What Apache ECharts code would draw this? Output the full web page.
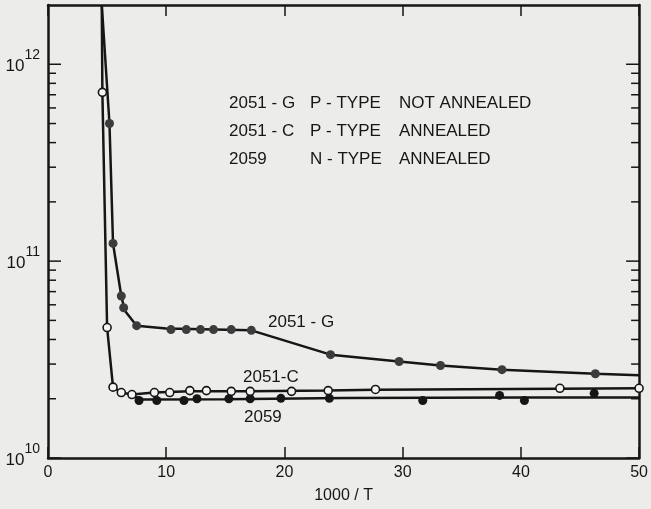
<!DOCTYPE html>
<html>
<head>
<meta charset="utf-8">
<script src="https://cdn.jsdelivr.net/npm/echarts@6/dist/echarts.min.js"></script>
<style>
  html, body { margin: 0; padding: 0; background: #ececea; }
  #chart { width: 651px; height: 509px; }
</style>
</head>
<body>
<div id="chart"></div>
<script>
// axis ranges
const xMin = 0, xMax = 50, xStep = 10;
const yMin = 1e10, yMax = 2e12;
const decades = [1e10, 1e11, 1e12];
const minorMults = [2, 3, 4, 5, 6, 7, 8, 9];

// 2051-G  (P-type, not annealed) : drawn curve + measured points
const gCurveX = [4.55, 5.2, 5.5, 6.2, 6.5, 7.5, 10, 17.2, 23.9, 29.7, 33.2, 38.4, 46.3, 50];
const gCurveY = [2e12, 5e11, 1.23e11, 6.65e10, 5.6e10, 4.7e10, 4.55e10, 4.45e10, 3.35e10, 3.09e10, 2.95e10, 2.81e10, 2.68e10, 2.63e10];
const gDotsX = [5.2, 5.5, 6.2, 6.4, 7.5, 10.4, 11.7, 12.9, 14.0, 15.5, 17.2, 23.9, 29.7, 33.2, 38.4, 46.3];
const gDotsY = [5e11, 1.23e11, 6.65e10, 5.8e10, 4.7e10, 4.49e10, 4.49e10, 4.49e10, 4.49e10, 4.49e10, 4.45e10, 3.35e10, 3.09e10, 2.95e10, 2.81e10, 2.68e10];

// 2051-C  (P-type, annealed)
const cCurveX = [4.55, 4.6, 5.0, 5.5, 6.2, 7.1, 9.0, 12.0, 17.1, 23.7, 27.7, 43.3, 50];
const cCurveY = [2e12, 7.2e11, 4.6e10, 2.29e10, 2.15e10, 2.1e10, 2.15e10, 2.18e10, 2.18e10, 2.2e10, 2.22e10, 2.25e10, 2.26e10];
const cDotsX = [4.6, 5.0, 5.5, 6.2, 7.1, 9.0, 10.3, 12.0, 13.4, 15.5, 17.1, 20.6, 23.7, 27.7, 43.3, 50];
const cDotsY = [7.2e11, 4.6e10, 2.29e10, 2.15e10, 2.1e10, 2.15e10, 2.15e10, 2.2e10, 2.2e10, 2.18e10, 2.18e10, 2.18e10, 2.2e10, 2.23e10, 2.26e10, 2.26e10];

// 2059  (N-type, annealed)
const nCurveX = [7.1, 8.0, 15, 25, 40, 50];
const nCurveY = [2.08e10, 1.98e10, 1.99e10, 2.02e10, 2.03e10, 2.03e10];
const nDotsX = [7.7, 9.2, 11.5, 12.6, 15.3, 17.1, 19.7, 23.8, 31.7, 38.2, 40.3, 46.2];
const nDotsY = [1.96e10, 1.96e10, 1.96e10, 2.0e10, 2.0e10, 2.0e10, 2.01e10, 2.01e10, 1.96e10, 2.08e10, 1.96e10, 2.13e10];

const legendRows = [
  ['2051 - G', 'P - TYPE', 'NOT ANNEALED'],
  ['2051 - C', 'P - TYPE', 'ANNEALED'],
  ['2059', 'N - TYPE', 'ANNEALED']
];
const curveLabels = ['2051 - G', '2051-C', '2059'];

const ink = '#161616';
const font = "'Liberation Sans', 'DejaVu Sans', sans-serif";

const zip = (xs, ys) => xs.map((x, i) => [x, ys[i]]);

const chart = echarts.init(document.getElementById('chart'));

function curve(xs, ys) {
  return {
    type: 'line', data: zip(xs, ys), showSymbol: false, symbol: 'none',
    lineStyle: { color: ink, width: 2.5 }, z: 3, silent: true, animation: false
  };
}
function dots(xs, ys, fill, size, border) {
  return {
    type: 'scatter', data: zip(xs, ys), symbolSize: size, z: 5, animation: false,
    itemStyle: { color: fill, borderColor: ink, borderWidth: border, opacity: 1 }
  };
}

const commonX = { type: 'value', min: xMin, max: xMax, interval: xStep, splitLine: { show: false },
  axisLine: { show: true, onZero: false, lineStyle: { color: ink, width: 2.5 } },
  axisTick: { inside: true, length: 11, lineStyle: { color: ink, width: 1.5 } } };
const commonY = { type: 'log', logBase: 10, min: yMin, max: yMax, splitLine: { show: false },
  axisLine: { show: true, onZero: false, lineStyle: { color: ink, width: 2.5 } },
  axisTick: { show: false } };

chart.setOption({
  backgroundColor: '#ececea',
  animation: false,
  grid: { left: 48, right: 8, top: 5, bottom: 48 },
  xAxis: [
    Object.assign({}, commonX, {
      position: 'bottom',
      name: '1000 / T', nameLocation: 'middle', nameGap: 30,
      nameTextStyle: { color: ink, fontSize: 16, fontFamily: font },
      axisLabel: { color: ink, fontSize: 16, fontFamily: font, margin: 7 }
    }),
    Object.assign({}, commonX, { position: 'top', axisLabel: { show: false } })
  ],
  yAxis: [
    Object.assign({}, commonY, {
      position: 'left',
      axisLabel: {
        margin: 8, showMaxLabel: false,
        formatter: function (v) {
          const e = Math.round(Math.log10(v));
          if (Math.abs(Math.log10(v) - e) > 1e-6) return '';
          return '{b|10}{s|' + e + '}';
        },
        rich: {
          b: { color: ink, fontSize: 17, fontFamily: font, padding: [4, 0, 0, 0] },
          s: { color: ink, fontSize: 14, fontFamily: font, padding: [0, 0, 18, 0] }
        }
      }
    }),
    Object.assign({}, commonY, { position: 'right', axisLabel: { show: false } })
  ],
  series: [
    curve(gCurveX, gCurveY),
    curve(cCurveX, cCurveY),
    curve(nCurveX, nCurveY),
    dots(gDotsX, gDotsY, '#3c3c3c', 9, 0),
    dots(nDotsX, nDotsY, ink, 9, 0),
    dots(cDotsX, cDotsY, '#f4f4f2', 8, 1.6)
  ]
});

const graphics = [];
// log ticks (10^n long, 2..9 x 10^n short) on both frame sides, placed through the axis scale
decades.forEach(function (d) {
  const vals = [[d, 13]];
  minorMults.forEach(m => { if (d * m < yMax) vals.push([d * m, 8]); });
  vals.forEach(function (t) {
    [[xMin, 1], [xMax, -1]].forEach(function (side) {
      const p = chart.convertToPixel({ xAxisIndex: 0, yAxisIndex: 0 }, [side[0], t[0]]);
      graphics.push({ type: 'line', z: 20, silent: true,
        shape: { x1: p[0], y1: p[1], x2: p[0] + side[1] * t[1], y2: p[1] },
        style: { stroke: ink, lineWidth: 1.5 } });
    });
  });
});
// legend block in the upper part of the plot
const colX = [229, 310, 399];
const rowY = [103, 131, 159];
legendRows.forEach(function (row, r) {
  row.forEach(function (t, c) {
    graphics.push({ type: 'text', x: colX[c], y: rowY[r],
      style: { text: t, fill: ink, font: '17px ' + font, verticalAlign: 'middle' } });
  });
});
// curve labels
const labelPos = [[268, 322], [243, 377], [244, 417]];
curveLabels.forEach(function (t, i) {
  graphics.push({ type: 'text', x: labelPos[i][0], y: labelPos[i][1],
    style: { text: t, fill: ink, font: '17px ' + font, verticalAlign: 'middle' } });
});
chart.setOption({ graphic: graphics });

window.addEventListener('resize', function () { chart.resize(); });
</script>
</body>
</html>
